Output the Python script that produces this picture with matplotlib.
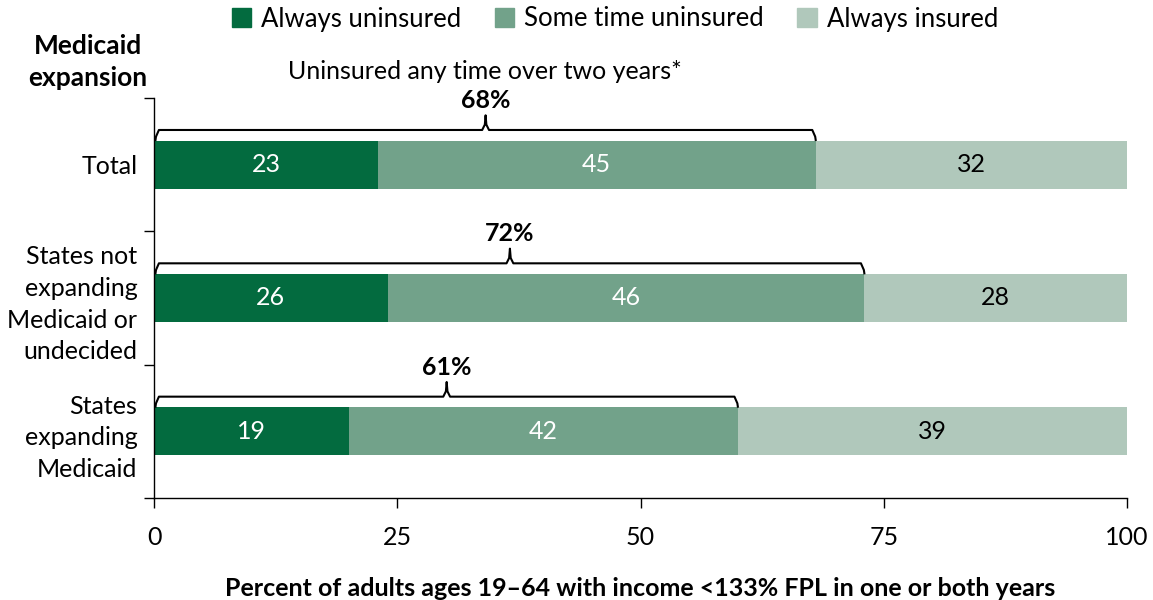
import matplotlib
matplotlib.use("Agg")
import matplotlib.pyplot as plt
from matplotlib.patches import Patch

plt.rcParams['font.family'] = ['Lato', 'DejaVu Sans']

# data
groups = ["Total", "States not\nexpanding\nMedicaid or\nundecided", "States\nexpanding\nMedicaid"]
series_names = ["Always uninsured", "Some time uninsured", "Always insured"]
# segment widths as drawn in the picture
always_uninsured = [23, 24, 20]
some_time_uninsured = [45, 49, 40]
always_insured = [32, 27, 40]
# value labels printed in the segments
label_always_uninsured = [23, 26, 19]
label_some_time = [45, 46, 42]
label_always_insured = [32, 28, 39]
# uninsured any time over two years
any_time_pct = ["68%", "72%", "61%"]

colors = ["#036b3f", "#72a28a", "#b0c8bb"]
text_colors = ["white", "white", "black"]

fig = plt.figure(figsize=(11.53, 6.0), dpi=100)
ax = fig.add_axes([0.1336, 0.17, 0.9775 - 0.1336, 0.6667])

ypos = list(range(len(groups)))
bar_h = 0.36
series = [always_uninsured, some_time_uninsured, always_insured]
labels = [label_always_uninsured, label_some_time, label_always_insured]
left = [0] * len(groups)
for k in range(3):
    ax.barh(ypos, series[k], left=left, height=bar_h, color=colors[k], label=series_names[k])
    for i in range(len(groups)):
        ax.text(left[i] + series[k][i] / 2, ypos[i], str(labels[k][i]),
                ha='center', va='center', color=text_colors[k], fontsize=18)
    left = [left[i] + series[k][i] for i in range(len(groups))]

# brackets over the uninsured part
for i in range(len(groups)):
    x0 = 0.15
    x1 = always_uninsured[i] + some_time_uninsured[i]
    xm = (x0 + x1) / 2
    yb = ypos[i] - bar_h / 2 - 0.005
    yl = ypos[i] - 0.26
    yp = ypos[i] - 0.37
    c = 0.35
    xs = [x0, x0 + 0.05, x0 + c, xm - c, xm - 0.08, xm, xm + 0.08, xm + c, x1 - c, x1 - 0.05, x1]
    ys = [yb, yl + 0.05, yl, yl, yl - 0.04, yp, yl - 0.04, yl, yl, yl + 0.05, yb]
    ax.plot(xs, ys, color='black', lw=1.5, clip_on=False, solid_joinstyle='round')
    ax.text(xm, ypos[i] - 0.48, any_time_pct[i], ha='center', va='center',
            fontsize=18, fontweight='bold')
ax.text(34, -0.70, "Uninsured any time over two years*", ha='center', va='center', fontsize=18)

ax.set_xlim(0, 100)
ax.set_ylim(2.5, -0.5)
ax.set_xticks([0, 25, 50, 75, 100])
ax.tick_params(axis='x', length=7, width=1, labelsize=18, pad=13)
ax.set_yticks(ypos)
ax.set_yticklabels(groups, fontsize=18, linespacing=1.45)
ax.tick_params(axis='y', which='major', length=0, pad=12)
ax.set_yticks([-0.5, 0.5, 1.5, 2.5], minor=True)
ax.tick_params(axis='y', which='minor', length=7, width=1)
for s in ['top', 'right']:
    ax.spines[s].set_visible(False)
for s in ['left', 'bottom']:
    ax.spines[s].set_linewidth(1)
ax.set_xlabel("Percent of adults ages 19–64 with income <133% FPL in one or both years",
              fontsize=18, fontweight='bold', labelpad=20)

fig.text(88 / 1153, 1 - 62 / 600, "Medicaid\nexpansion", ha='center', va='center',
         fontsize=19, fontweight='bold', linespacing=1.35)

handles = [Patch(color=colors[k]) for k in range(3)]
fig.legend(handles, series_names, loc='center', bbox_to_anchor=(615 / 1153, 1 - 19 / 600),
           ncol=3, frameon=False, fontsize=18.5, handlelength=0.75, handleheight=0.75,
           handletextpad=0.4, columnspacing=1.3, borderpad=0)

fig.savefig("out.png", dpi=100)
